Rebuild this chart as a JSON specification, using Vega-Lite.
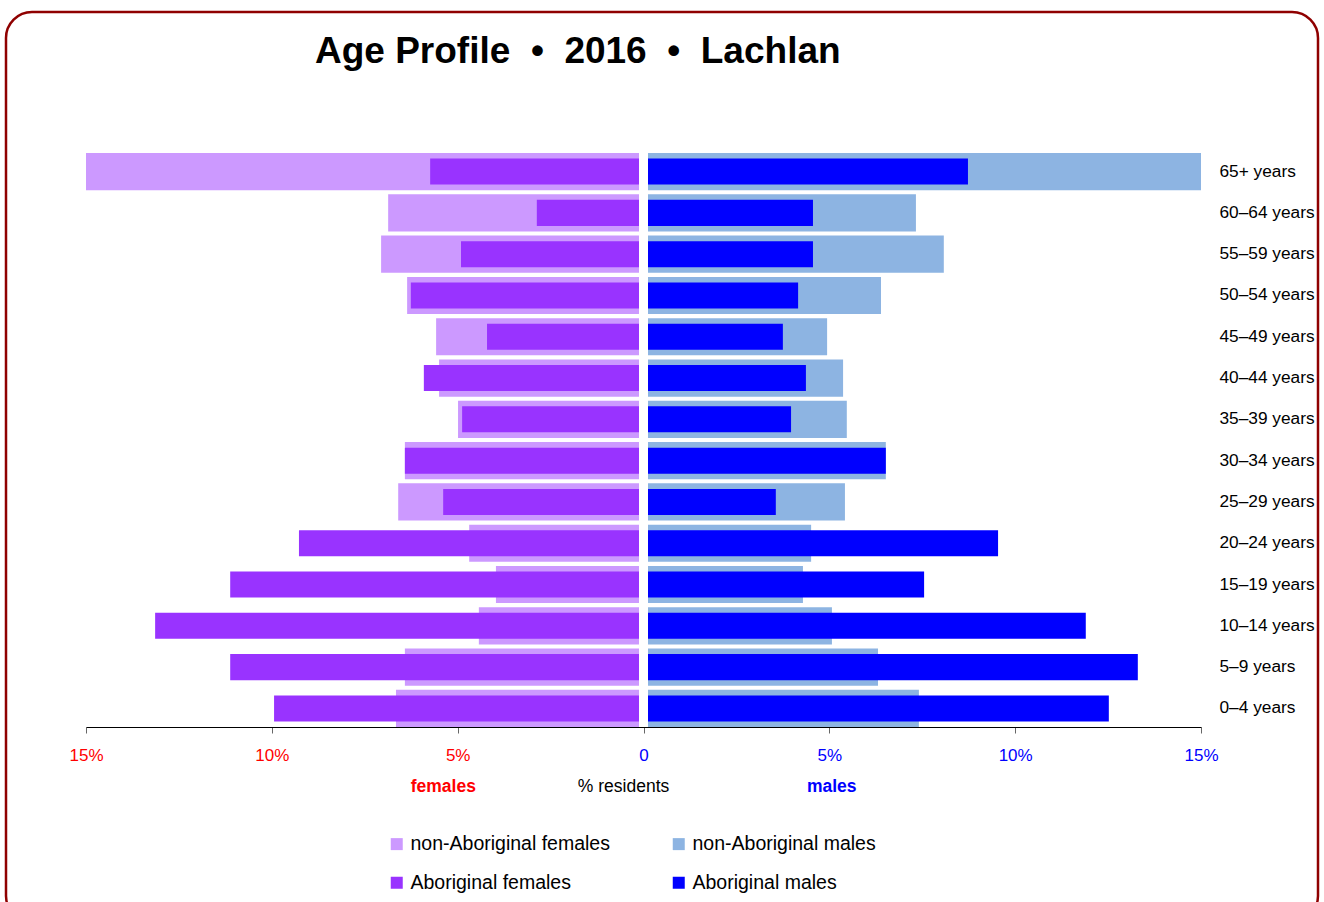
{
  "$schema": "https://vega.github.io/schema/vega-lite/v6.json",
  "width": 1312,
  "height": 910,
  "autosize": "none",
  "padding": {"left": 6, "top": 12, "right": 6, "bottom": 0},
  "background": "white",
  "config": {
    "view": {"stroke": "#8f0000", "strokeWidth": 2.5, "cornerRadius": 26},
    "font": "Liberation Sans, Arial, sans-serif"
  },
  "title": {
    "text": "Age Profile\u00a0\u00a0•\u00a0\u00a02016\u00a0\u00a0•\u00a0\u00a0Lachlan",
    "anchor": "start",
    "dx": 309,
    "offset": -59,
    "fontSize": 37,
    "font": "Liberation Sans",
    "fontWeight": "bold",
    "color": "#000000"
  },
  "data": {
    "values": [
      {"age": "65+ years", "series": "non-Aboriginal females", "pct": -15.0},
      {"age": "60–64 years", "series": "non-Aboriginal females", "pct": -6.87},
      {"age": "55–59 years", "series": "non-Aboriginal females", "pct": -7.06},
      {"age": "50–54 years", "series": "non-Aboriginal females", "pct": -6.36},
      {"age": "45–49 years", "series": "non-Aboriginal females", "pct": -5.58},
      {"age": "40–44 years", "series": "non-Aboriginal females", "pct": -5.5},
      {"age": "35–39 years", "series": "non-Aboriginal females", "pct": -4.99},
      {"age": "30–34 years", "series": "non-Aboriginal females", "pct": -6.42},
      {"age": "25–29 years", "series": "non-Aboriginal females", "pct": -6.6},
      {"age": "20–24 years", "series": "non-Aboriginal females", "pct": -4.69},
      {"age": "15–19 years", "series": "non-Aboriginal females", "pct": -3.97},
      {"age": "10–14 years", "series": "non-Aboriginal females", "pct": -4.43},
      {"age": "5–9 years", "series": "non-Aboriginal females", "pct": -6.42},
      {"age": "0–4 years", "series": "non-Aboriginal females", "pct": -6.66},
      {"age": "65+ years", "series": "Aboriginal females", "pct": -5.74},
      {"age": "60–64 years", "series": "Aboriginal females", "pct": -2.87},
      {"age": "55–59 years", "series": "Aboriginal females", "pct": -4.91},
      {"age": "50–54 years", "series": "Aboriginal females", "pct": -6.26},
      {"age": "45–49 years", "series": "Aboriginal females", "pct": -4.21},
      {"age": "40–44 years", "series": "Aboriginal females", "pct": -5.91},
      {"age": "35–39 years", "series": "Aboriginal females", "pct": -4.88},
      {"age": "30–34 years", "series": "Aboriginal females", "pct": -6.42},
      {"age": "25–29 years", "series": "Aboriginal females", "pct": -5.39},
      {"age": "20–24 years", "series": "Aboriginal females", "pct": -9.27},
      {"age": "15–19 years", "series": "Aboriginal females", "pct": -11.12},
      {"age": "10–14 years", "series": "Aboriginal females", "pct": -13.14},
      {"age": "5–9 years", "series": "Aboriginal females", "pct": -11.12},
      {"age": "0–4 years", "series": "Aboriginal females", "pct": -9.94},
      {"age": "65+ years", "series": "non-Aboriginal males", "pct": 15.0},
      {"age": "60–64 years", "series": "non-Aboriginal males", "pct": 7.33},
      {"age": "55–59 years", "series": "non-Aboriginal males", "pct": 8.08},
      {"age": "50–54 years", "series": "non-Aboriginal males", "pct": 6.39},
      {"age": "45–49 years", "series": "non-Aboriginal males", "pct": 4.94},
      {"age": "40–44 years", "series": "non-Aboriginal males", "pct": 5.37},
      {"age": "35–39 years", "series": "non-Aboriginal males", "pct": 5.47},
      {"age": "30–34 years", "series": "non-Aboriginal males", "pct": 6.52},
      {"age": "25–29 years", "series": "non-Aboriginal males", "pct": 5.42},
      {"age": "20–24 years", "series": "non-Aboriginal males", "pct": 4.51},
      {"age": "15–19 years", "series": "non-Aboriginal males", "pct": 4.29},
      {"age": "10–14 years", "series": "non-Aboriginal males", "pct": 5.07},
      {"age": "5–9 years", "series": "non-Aboriginal males", "pct": 6.31},
      {"age": "0–4 years", "series": "non-Aboriginal males", "pct": 7.41},
      {"age": "65+ years", "series": "Aboriginal males", "pct": 8.73},
      {"age": "60–64 years", "series": "Aboriginal males", "pct": 4.56},
      {"age": "55–59 years", "series": "Aboriginal males", "pct": 4.56},
      {"age": "50–54 years", "series": "Aboriginal males", "pct": 4.16},
      {"age": "45–49 years", "series": "Aboriginal males", "pct": 3.75},
      {"age": "40–44 years", "series": "Aboriginal males", "pct": 4.37},
      {"age": "35–39 years", "series": "Aboriginal males", "pct": 3.97},
      {"age": "30–34 years", "series": "Aboriginal males", "pct": 6.52},
      {"age": "25–29 years", "series": "Aboriginal males", "pct": 3.56},
      {"age": "20–24 years", "series": "Aboriginal males", "pct": 9.54},
      {"age": "15–19 years", "series": "Aboriginal males", "pct": 7.55},
      {"age": "10–14 years", "series": "Aboriginal males", "pct": 11.9},
      {"age": "5–9 years", "series": "Aboriginal males", "pct": 13.3},
      {"age": "0–4 years", "series": "Aboriginal males", "pct": 12.52}
    ]
  },
  "encoding": {
    "y": {
      "field": "age",
      "type": "nominal",
      "sort": ["65+ years", "60–64 years", "55–59 years", "50–54 years", "45–49 years", "40–44 years", "35–39 years", "30–34 years", "25–29 years", "20–24 years", "15–19 years", "10–14 years", "5–9 years", "0–4 years"],
      "scale": {"range": [141, 715], "paddingInner": 0.1, "paddingOuter": 0},
      "axis": {
        "orient": "right",
        "offset": -99,
        "title": null,
        "ticks": false,
        "domain": false,
        "labelPadding": 0,
        "labelAlign": "left",
        "labelFontSize": 17.3,
        "labelColor": "#000000"
      }
    },
    "color": {
      "field": "series",
      "type": "nominal",
      "scale": {
        "domain": ["non-Aboriginal females", "non-Aboriginal males", "Aboriginal females", "Aboriginal males"],
        "range": ["#cc99ff", "#8db4e2", "#9933ff", "#0000ff"]
      },
      "legend": {
        "orient": "none",
        "direction": "horizontal",
        "legendX": 381,
        "legendY": 822,
        "title": null,
        "columns": 2,
        "columnPadding": 59,
        "rowPadding": 18,
        "padding": 0,
        "symbolType": "square",
        "symbolSize": 144,
        "symbolStrokeWidth": 0,
        "labelFontSize": 19.5,
        "labelOffset": 4,
        "labelColor": "#000000",
        "labelLimit": 400
      }
    }
  },
  "layer": [
    {
      "transform": [{"filter": "datum.series == 'non-Aboriginal females'"}],
      "mark": {"type": "bar", "x2Offset": -4.5},
      "encoding": {
        "x": {
          "field": "pct",
          "type": "quantitative",
          "scale": {"domain": [-15, 15], "range": [80, 1195], "nice": false, "zero": false},
          "axis": {
            "orient": "bottom",
            "offset": -195,
            "title": null,
            "values": [-15, -10, -5, 0, 5, 10, 15],
            "labelExpr": "datum.value == 0 ? '0' : abs(datum.value) + '%'",
            "labelColor": {"condition": {"test": "datum.value < 0", "value": "#ff0000"}, "value": "#0000ff"},
            "labelFontSize": 17,
            "labelFlush": false,
            "labelPadding": 14,
            "tickSize": 6,
            "tickColor": "#666666",
            "domainColor": "#000000",
            "grid": false
          }
        },
        "x2": {"datum": 0}
      }
    },
    {
      "transform": [{"filter": "datum.series == 'non-Aboriginal males'"}],
      "mark": {"type": "bar", "x2Offset": 4.5},
      "encoding": {
        "x": {
          "field": "pct",
          "type": "quantitative",
          "scale": {"domain": [-15, 15], "range": [80, 1195], "nice": false, "zero": false},
          "axis": null
        },
        "x2": {"datum": 0}
      }
    },
    {
      "transform": [{"filter": "datum.series == 'Aboriginal females'"}],
      "mark": {"type": "bar", "x2Offset": -4.5, "height": {"band": 0.7}},
      "encoding": {
        "x": {
          "field": "pct",
          "type": "quantitative",
          "scale": {"domain": [-15, 15], "range": [80, 1195], "nice": false, "zero": false},
          "axis": null
        },
        "x2": {"datum": 0}
      }
    },
    {
      "transform": [{"filter": "datum.series == 'Aboriginal males'"}],
      "mark": {"type": "bar", "x2Offset": 4.5, "height": {"band": 0.7}},
      "encoding": {
        "x": {
          "field": "pct",
          "type": "quantitative",
          "scale": {"domain": [-15, 15], "range": [80, 1195], "nice": false, "zero": false},
          "axis": {
            "orient": "bottom",
            "offset": -195,
            "title": null,
            "values": [-5.4, -0.55, 5.05],
            "labelExpr": "datum.value < -2 ? 'females' : (datum.value > 2 ? 'males' : '% residents')",
            "labelColor": {"condition": [{"test": "datum.value < -2", "value": "#ff0000"}, {"test": "datum.value > 2", "value": "#0000ff"}], "value": "#000000"},
            "labelFontWeight": {"condition": {"test": "abs(datum.value) > 2", "value": "bold"}, "value": "normal"},
            "labelFontSize": 17.5,
            "labelFlush": false,
            "labelPadding": 50,
            "ticks": false,
            "domain": false,
            "grid": false
          }
        },
        "x2": {"datum": 0}
      }
    }
  ],
  "resolve": {"scale": {"x": "independent"}, "axis": {"x": "independent"}}
}
